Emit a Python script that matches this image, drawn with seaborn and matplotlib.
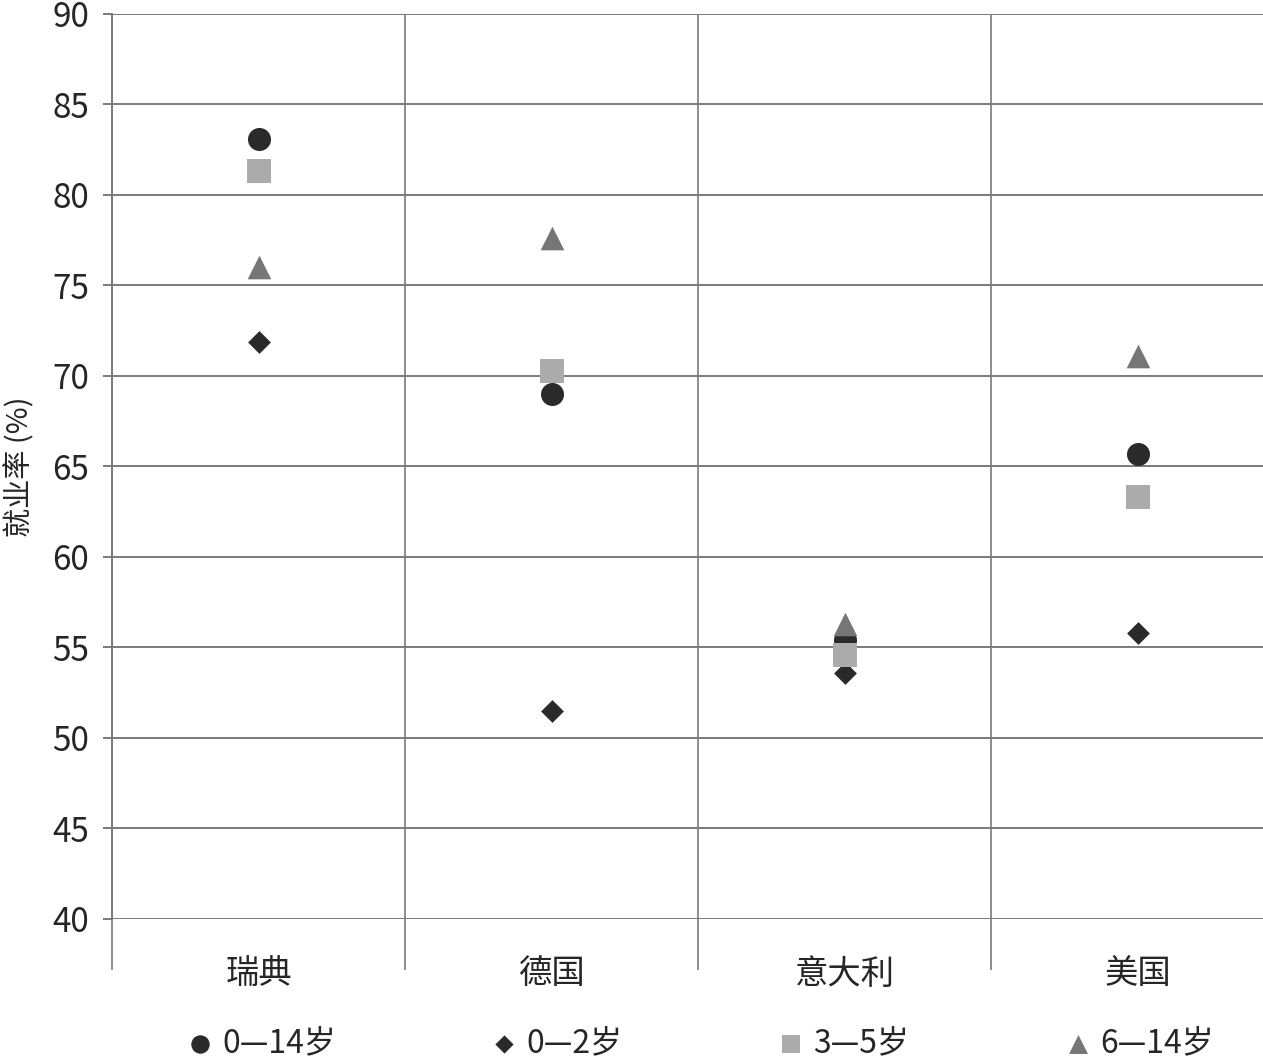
import pandas as pd
import matplotlib
matplotlib.use("Agg")
import matplotlib.pyplot as plt
import seaborn as sns

sns.set_style("white")
plt.rcParams['font.family'] = ['Noto Sans CJK SC', 'DejaVu Sans']

# data
countries = ['瑞典', '德国', '意大利', '美国']
series = ['0—14岁', '0—2岁', '3—5岁', '6—14岁']
age_0_14 = [83.1, 69.0, 55.4, 65.7]
age_0_2 = [71.9, 51.5, 53.6, 55.8]
age_3_5 = [81.3, 70.3, 54.6, 63.3]
age_6_14 = [76.0, 77.6, 56.3, 71.1]

markers = ['o', 'D', 's', '^']
colors = ['#2a2a2a', '#2a2a2a', '#ababab', '#767676']
sizes = [275, 135, 275, 290]

df = pd.DataFrame({'国家': countries * 4,
                   '组别': sum([[s] * 4 for s in series], []),
                   '就业率': age_0_14 + age_0_2 + age_3_5 + age_6_14})

grid_c = '#7a7a7a'
fig = plt.figure(figsize=(12.63, 10.58), dpi=100)
ax = fig.add_axes([0.0887, 0.1314, 0.928, 0.8554])

# draw order so the overlap in 意大利 looks like the original
for i in [1, 0, 2, 3]:
    sub = df[df['组别'] == series[i]]
    sns.scatterplot(data=sub, x='国家', y='就业率', marker=markers[i], color=colors[i],
                    s=sizes[i], linewidth=0, label=series[i], ax=ax, zorder=3)

ax.set_xlim(-0.5, 3.5)
ax.set_ylim(40, 90)
ax.set_yticks(range(40, 91, 5))
ax.set_xticks(range(4))
ax.set_xticklabels(countries, fontsize=24)
ax.set_xticks([-0.5, 0.5, 1.5, 2.5, 3.5], minor=True)
ax.tick_params(axis='x', which='major', bottom=False, length=0, pad=27)
ax.tick_params(axis='x', which='minor', bottom=True, length=37, width=1.2,
               color=grid_c, direction='out')
ax.tick_params(axis='y', left=True, length=6.5, width=1.4, color=grid_c, pad=10,
               labelsize=24)
ax.grid(True, axis='y', which='major', color=grid_c, linewidth=1.4)
ax.grid(True, axis='x', which='minor', color=grid_c, linewidth=1.2)
ax.set_axisbelow(True)
for side in ['top', 'right', 'bottom']:
    ax.spines[side].set_visible(False)
ax.spines['left'].set_color(grid_c)
ax.spines['left'].set_linewidth(1.4)
ax.set_xlabel('')
ax.set_ylabel('就业率 (%)', fontsize=21, labelpad=12)

handles, labels = ax.get_legend_handles_labels()
order = [labels.index(s) for s in series]
ax.get_legend().remove()
fig.legend([handles[k] for k in order], series, loc='center',
           bbox_to_anchor=(0.148, -0.006, 0.813, 0.04), mode='expand', ncol=4,
           frameon=False, fontsize=23, handletextpad=0.3, markerscale=0.8,
           handlelength=0.8, borderpad=0, borderaxespad=0)

fig.savefig('out.png', dpi=100)
